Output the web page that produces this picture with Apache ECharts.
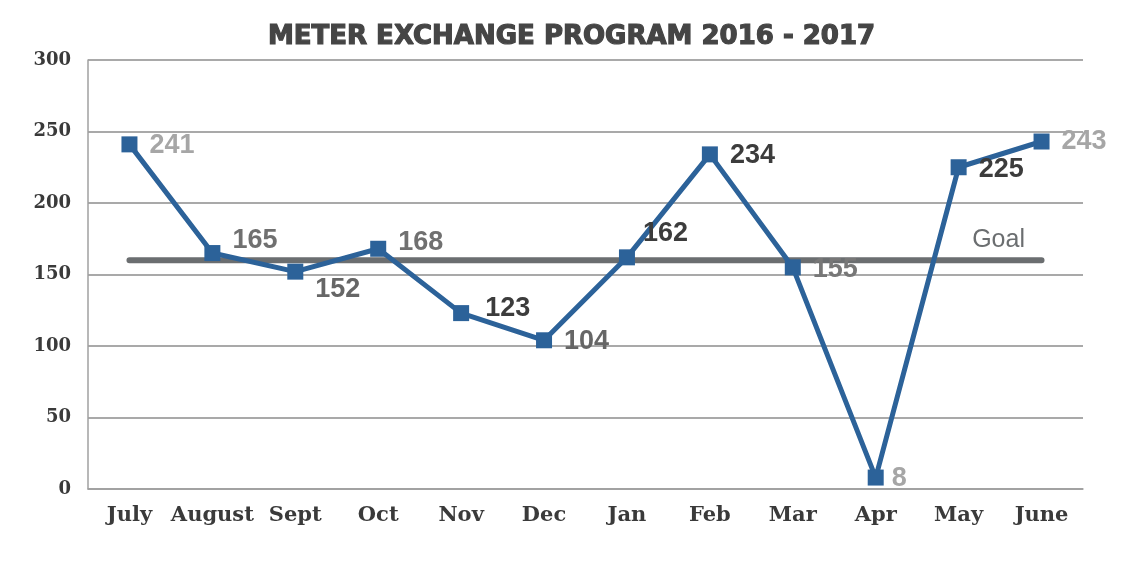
<!DOCTYPE html>
<html>
<head>
<meta charset="utf-8">
<script src="https://cdn.jsdelivr.net/npm/echarts@6/dist/echarts.min.js"></script>
<style>html,body{margin:0;padding:0;background:#fff;}#c{width:1143px;height:577px;}</style>
</head>
<body>
<div id="c"></div>
<script>
var categories = ['July','August','Sept','Oct','Nov','Dec','Jan','Feb','Mar','Apr','May','June'];
var exchanged = [241,165,152,168,123,104,162,234,155,8,225,243];
var goalValue = 160;
var goalLabel = 'Goal';
var yTicks = [0,50,100,150,200,250,300];

// per-point label styling (colour, offset) — presentation only
var labelColors = ['#a6a6a6','#707070','#666666','#707070','#3c3c3c','#666666','#3c3c3c','#3c3c3c','#777777','#a6a6a6','#3c3c3c','#a6a6a6'];
var labelOffsets = [[0,1],[0,-13],[0,18],[0,-6],[4,-5],[0,1],[-4,-24],[0,1],[0,2],[-4,1],[0,2],[0,0]];

var chart = echarts.init(document.getElementById('c'));
var lineData = exchanged.map(function(v,i){
  return {value:v, label:{color:labelColors[i], offset:labelOffsets[i]}};
});
var goalData = categories.map(function(c,i){
  if(i===categories.length-1){
    return {value:goalValue, label:{show:true, formatter:goalLabel, position:'top', distance:4, offset:[-43,-4],
      fontFamily:'Liberation Sans', fontSize:25, color:'#6b6e70'}};
  }
  return goalValue;
});

chart.setOption({
  animation:false,
  backgroundColor:'#fff',
  title:{
    text:'METER EXCHANGE PROGRAM 2016 - 2017',
    left:'center', top:19,
    textStyle:{fontFamily:'DejaVu Sans', fontWeight:'bold', fontSize:26, color:'#454545',
      textBorderColor:'#454545', textBorderWidth:1.2}
  },
  grid:{left:88, right:60, top:60, bottom:88, containLabel:false},
  xAxis:{
    type:'category', data:categories, boundaryGap:true,
    axisLine:{show:true, lineStyle:{color:'#a0a0a0', width:1.5}},
    axisTick:{show:false},
    axisLabel:{interval:0, fontFamily:'DejaVu Serif', fontWeight:'bold', fontSize:21, color:'#3a3a3a', margin:16}
  },
  yAxis:{
    type:'value', min:yTicks[0], max:yTicks[yTicks.length-1], interval:50,
    axisLine:{show:true, lineStyle:{color:'#a0a0a0', width:1.5}},
    axisTick:{show:false},
    splitLine:{lineStyle:{color:'#8c8c8c', width:1.5}},
    axisLabel:{fontFamily:'DejaVu Serif', fontWeight:'bold', fontSize:18, color:'#3a3a3a', margin:17}
  },
  series:[
    {
      name:'Goal', type:'line', data:goalData, symbol:'circle', symbolSize:0, showSymbol:true,
      itemStyle:{color:'#6b6e70'},
      lineStyle:{color:'#6b6e70', width:6, cap:'round'},
      z:2,
      label:{show:false}
    },
    {
      name:'Exchanged', type:'line', data:lineData,
      symbol:'rect', symbolSize:16,
      itemStyle:{color:'#2c6299'},
      lineStyle:{color:'#2c6299', width:5},
      z:3,
      label:{show:true, position:'right', distance:12,
        fontFamily:'Liberation Sans', fontWeight:'bold', fontSize:27}
    }
  ]
});
</script>
</body>
</html>
